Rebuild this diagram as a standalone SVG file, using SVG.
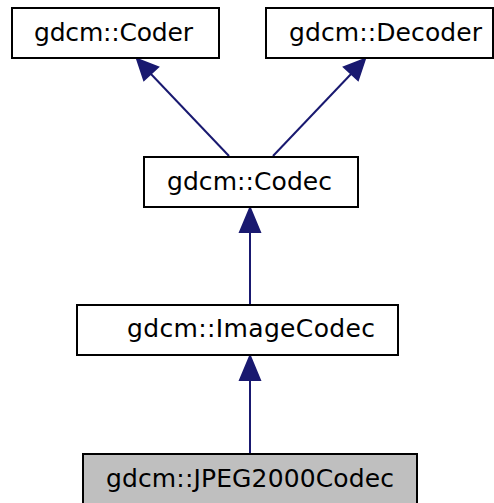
<svg xmlns="http://www.w3.org/2000/svg" width="494" height="503" viewBox="0 0 494 503">
<style>
.box{fill:#fff;stroke:#000;stroke-width:2}
.hl{fill:#bfbfbf;stroke:#000;stroke-width:2}
.lbl{font-family:"DejaVu Sans",sans-serif;font-size:25px;fill:#000}
.edge{stroke:#191970;stroke-width:2;fill:none}
.head{fill:#191970;stroke:#191970;stroke-width:2}
</style>
<rect width="494" height="503" fill="#fff"/>
<g id="edges">
<path class="edge" d="M229,156 L150,73"/>
<polygon class="head" points="137,59 158,67 144,80"/>
<path class="edge" d="M273,156 L352,73"/>
<polygon class="head" points="365,59 358,80 344,67"/>
<path class="edge" d="M250,305 L250,225"/>
<polygon class="head" points="250,208 260,232 240,232"/>
<path class="edge" d="M250,453 L250,373"/>
<polygon class="head" points="250,356 260,380 240,380"/>
</g>
<g id="coder"><rect class="box" x="12" y="8" width="207" height="50"/><text class="lbl" x="34" y="41" textLength="159" lengthAdjust="spacing">gdcm::Coder</text></g>
<g id="decoder"><rect class="box" x="266" y="8" width="227" height="50"/><text class="lbl" x="289" y="41" textLength="193" lengthAdjust="spacing">gdcm::Decoder</text></g>
<g id="codec"><rect class="box" x="144" y="157" width="214" height="50"/><text class="lbl" x="167" y="190" textLength="165" lengthAdjust="spacing">gdcm::Codec</text></g>
<g id="imagecodec"><rect class="box" x="77" y="305" width="321" height="50"/><text class="lbl" x="127" y="337" textLength="248" lengthAdjust="spacing">gdcm::ImageCodec</text></g>
<g id="jpeg2000codec"><rect class="hl" x="83" y="454" width="334" height="50"/><text class="lbl" x="106" y="487" textLength="288" lengthAdjust="spacing">gdcm::JPEG2000Codec</text></g>
</svg>
